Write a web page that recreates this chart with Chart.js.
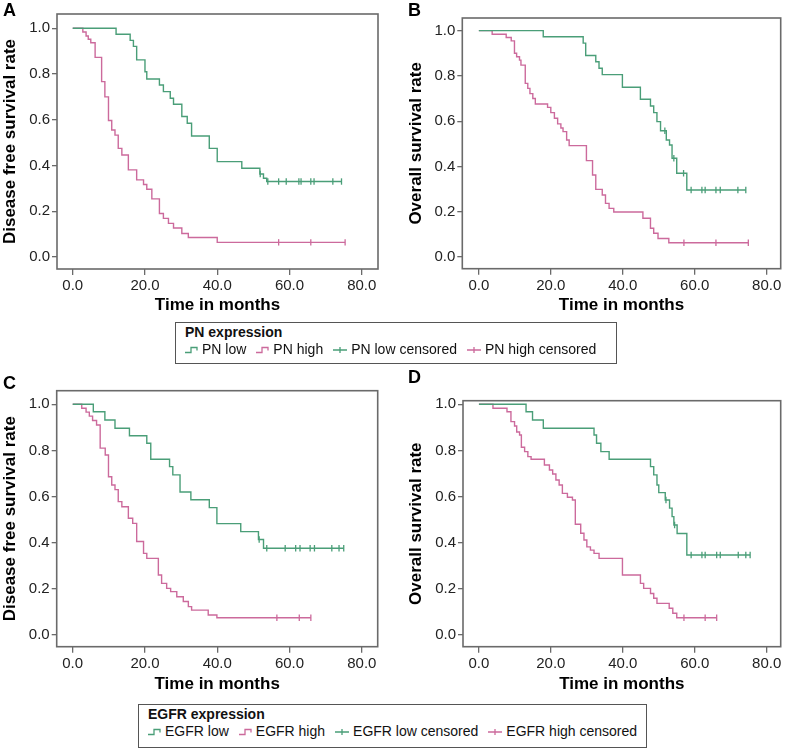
<!DOCTYPE html>
<html>
<head>
<meta charset="utf-8">
<script src="https://cdn.jsdelivr.net/npm/chart.js@4.4.1/dist/chart.umd.min.js"></script>
<style>
body{margin:0;width:786px;height:748px;position:relative;background:#fff;overflow:hidden;font-family:"Liberation Sans",Arial,sans-serif;color:#111}
canvas{position:absolute}
.letter{position:absolute;font-weight:bold;font-size:18px;line-height:1;color:#000}
.legend{position:absolute;border:1px solid #555;box-sizing:border-box;padding:1px 9px 0 9px;font-size:14px;line-height:17px;background:#fff}
.legend .ttl{font-weight:bold}
.legend .items{display:flex;align-items:center;white-space:nowrap}
.legend .item{display:flex;align-items:center;margin-right:10px}
.legend .item:last-child{margin-right:0}
.legend svg{margin-right:4px}
</style>
</head>
<body>
<canvas id="cA" width="393" height="318" style="left:0;top:0"></canvas>
<canvas id="cB" width="393" height="318" style="left:393px;top:0"></canvas>
<canvas id="cC" width="393" height="334" style="left:0;top:366px"></canvas>
<canvas id="cD" width="393" height="334" style="left:393px;top:366px"></canvas>

<div class="letter" style="left:3px;top:1px">A</div>
<div class="letter" style="left:408px;top:1px">B</div>
<div class="letter" style="left:3px;top:374px">C</div>
<div class="letter" style="left:408px;top:368px">D</div>

<div class="legend" id="leg1" style="left:175px;top:322px;width:442px;height:42px"></div>
<div class="legend" id="leg2" style="left:138px;top:704px;height:44px"></div>

<script>
const GREEN = '#4a9e78';
const PINK = '#cc6a9c';

const xTicks = [0, 20, 40, 60, 80];
const yTicks = [0, 0.2, 0.4, 0.6, 0.8, 1.0];

// A: PN, disease free survival
const pnDfsLowT = [0, 12.0, 15.9, 16.8, 17.7, 20.0, 20.5, 24.0, 25.1, 27.0, 27.9, 30.2, 31.7, 32.9, 37.8, 40.0, 46.8, 51.8, 52.8, 53.7, 74.4];
const pnDfsLowS = [1, 0.974, 0.947, 0.921, 0.862, 0.810, 0.778, 0.752, 0.723, 0.694, 0.668, 0.614, 0.585, 0.529, 0.475, 0.417, 0.388, 0.363, 0.344, 0.330, 0.330];
const pnDfsLowCens = [51.9, 54.0, 57.0, 59.1, 62.6, 63.2, 65.9, 66.8, 72.0, 74.4];
const pnDfsHighT = [0, 2.8, 3.7, 4.3, 5.0, 6.2, 8.0, 8.9, 9.9, 10.8, 11.7, 12.6, 13.6, 15.4, 17.7, 19.6, 20.5, 21.9, 24.0, 25.1, 26.5, 27.9, 30.2, 32.0, 40.0, 75.4];
const pnDfsHighS = [1, 0.984, 0.966, 0.952, 0.937, 0.873, 0.767, 0.700, 0.597, 0.555, 0.533, 0.475, 0.446, 0.381, 0.337, 0.317, 0.296, 0.254, 0.190, 0.169, 0.147, 0.127, 0.103, 0.085, 0.064, 0.064];
const pnDfsHighCens = [57.0, 65.9, 75.4];

// B: PN, overall survival
const pnOsLowT = [0, 17.9, 29.0, 29.7, 32.5, 33.4, 34.3, 39.9, 44.9, 47.7, 48.6, 49.5, 50.5, 52.1, 53.0, 53.7, 55.0, 57.8, 74.2];
const pnOsLowS = [1, 0.973, 0.945, 0.890, 0.863, 0.834, 0.806, 0.750, 0.697, 0.667, 0.638, 0.598, 0.558, 0.517, 0.495, 0.436, 0.370, 0.296, 0.296];
const pnOsLowCens = [51.7, 54.2, 56.9, 59.0, 62.0, 62.9, 65.9, 67.1, 72.0, 74.2];
const pnOsHighT = [0, 3.7, 7.6, 9.0, 9.9, 10.5, 11.3, 11.7, 12.9, 13.6, 14.2, 15.0, 15.7, 19.1, 20.0, 21.0, 21.9, 22.8, 23.4, 24.4, 25.1, 29.9, 31.6, 32.5, 34.3, 35.2, 36.2, 37.5, 45.6, 47.7, 48.6, 49.8, 52.8, 74.9];
const pnOsHighS = [1, 0.984, 0.970, 0.955, 0.900, 0.885, 0.870, 0.848, 0.767, 0.745, 0.722, 0.700, 0.676, 0.661, 0.638, 0.613, 0.588, 0.570, 0.554, 0.517, 0.492, 0.426, 0.362, 0.299, 0.274, 0.237, 0.215, 0.199, 0.171, 0.127, 0.105, 0.082, 0.063, 0.063];
const pnOsHighCens = [57.0, 65.9, 74.9];

// C: EGFR, disease free survival
const egDfsLowT = [0, 5.7, 8.9, 11.7, 15.7, 20.5, 21.6, 26.8, 27.7, 29.7, 32.7, 37.8, 39.9, 46.5, 51.4, 52.8, 75.0];
const egDfsLowS = [1, 0.968, 0.932, 0.896, 0.864, 0.831, 0.762, 0.730, 0.694, 0.620, 0.586, 0.552, 0.483, 0.448, 0.414, 0.376, 0.376];
const egDfsLowCens = [51.6, 53.7, 58.8, 61.7, 62.9, 65.7, 66.9, 71.7, 73.7, 75.0];
const egDfsHighT = [0, 2.5, 3.7, 4.6, 5.5, 6.6, 7.6, 9.0, 9.9, 10.8, 11.7, 12.6, 13.6, 15.4, 16.6, 17.7, 19.6, 20.5, 23.7, 24.6, 26.0, 27.1, 28.8, 30.6, 32.0, 32.9, 37.5, 39.9, 65.9];
const egDfsHighS = [1, 0.983, 0.966, 0.949, 0.930, 0.910, 0.810, 0.780, 0.686, 0.650, 0.630, 0.578, 0.556, 0.506, 0.484, 0.405, 0.354, 0.332, 0.260, 0.224, 0.202, 0.188, 0.166, 0.145, 0.123, 0.108, 0.087, 0.075, 0.075];
const egDfsHighCens = [56.5, 62.7, 65.9];

// D: EGFR, overall survival
const egOsLowT = [0, 13.1, 14.9, 17.9, 32.0, 32.7, 33.9, 36.2, 47.7, 48.6, 49.5, 50.0, 51.8, 53.0, 53.7, 54.2, 55.1, 57.8, 75.4];
const egOsLowS = [1, 0.968, 0.932, 0.896, 0.867, 0.831, 0.795, 0.762, 0.730, 0.694, 0.650, 0.617, 0.585, 0.550, 0.513, 0.477, 0.440, 0.347, 0.347];
const egOsLowCens = [52.0, 54.4, 59.0, 62.0, 62.9, 66.1, 67.1, 72.1, 74.2, 75.4];
const egOsHighT = [0, 3.9, 7.8, 8.9, 9.9, 10.5, 11.3, 11.8, 12.7, 13.6, 14.5, 18.2, 19.6, 20.5, 21.4, 22.3, 23.2, 24.6, 26.0, 26.8, 28.3, 29.2, 30.0, 31.0, 32.0, 33.4, 39.9, 44.9, 45.8, 47.7, 48.6, 49.5, 52.9, 53.9, 55.0, 66.1];
const egOsHighS = [1, 0.983, 0.968, 0.925, 0.906, 0.880, 0.867, 0.814, 0.795, 0.773, 0.762, 0.737, 0.715, 0.698, 0.672, 0.650, 0.614, 0.597, 0.585, 0.480, 0.441, 0.412, 0.382, 0.368, 0.354, 0.332, 0.260, 0.224, 0.202, 0.180, 0.159, 0.137, 0.116, 0.094, 0.075, 0.075];
const egOsHighCens = [57.0, 62.9, 66.1];

function kmPoints(t, s){ return t.map((v,i)=>({x:v, y:s[i]})); }
function survAt(time, t, s){
    let y = 1;
    for(let i=0;i<t.length;i++){ if(t[i] <= time) y = s[i]; }
    return y;
}
function censPoints(c, t, s){ return c.map(v=>({x:v, y:survAt(v,t,s)})); }

function lineSet(label, t, s, color){
    return {label:label, data:kmPoints(t,s), showLine:true, stepped:true, borderColor:color, borderWidth:1.4, pointRadius:0, fill:false};
}
function censSet(label, c, t, s, color){
    return {label:label, data:censPoints(c,t,s), showLine:false, pointStyle:'line', rotation:90, pointRadius:3.2, borderColor:color, backgroundColor:color, pointBorderWidth:1.3};
}

const boxPlugin = {
    id:'box',
    beforeDatasetsDraw(chart){
        const a = chart.chartArea, ctx = chart.ctx;
        ctx.save();
        ctx.strokeStyle = '#6a6a6a';
        ctx.lineWidth = 1.6;
        ctx.strokeRect(a.left, a.top, a.right-a.left, a.bottom-a.top);
        ctx.restore();
    }
};

function makePanel(id, p){
    new Chart(document.getElementById(id), {
        type:'scatter',
        data:{datasets:[
            lineSet('low', p.lowT, p.lowS, GREEN),
            lineSet('high', p.highT, p.highS, PINK),
            censSet('low censored', p.lowC, p.lowT, p.lowS, GREEN),
            censSet('high censored', p.highC, p.highT, p.highS, PINK)
        ]},
        options:{
            responsive:false,
            animation:false,
            layout:{padding:{left:0, top:p.area[1], right:p.w - p.area[2], bottom:0}},
            plugins:{legend:{display:false}, tooltip:{enabled:false}},
            scales:{
                x:{
                    type:'linear', min:p.xr[0], max:p.xr[1],
                    afterBuildTicks:s=>{ s.ticks = xTicks.map(v=>({value:v})); },
                    afterFit:s=>{ s.height = p.h - p.area[3]; },
                    grid:{drawOnChartArea:false, tickLength:6, color:'#6a6a6a', lineWidth:1.3},
                    border:{display:false},
                    ticks:{font:{size:15, family:'Liberation Sans'}, color:'#222', padding:2, maxRotation:0, callback:v=>v.toFixed(1)},
                    title:{display:true, text:'Time in months', color:'#000', font:{size:17, weight:'bold', family:'Liberation Sans'}, padding:{top:0, bottom:p.xtPad}}
                },
                y:{
                    type:'linear', min:p.yr[0], max:p.yr[1],
                    afterBuildTicks:s=>{ s.ticks = yTicks.map(v=>({value:v})); },
                    afterFit:s=>{ s.width = p.area[0]; },
                    grid:{drawOnChartArea:false, tickLength:5, color:'#6a6a6a', lineWidth:1.3},
                    border:{display:false},
                    ticks:{font:{size:15, family:'Liberation Sans'}, color:'#222', padding:2, callback:v=>v.toFixed(1)},
                    title:{display:true, text:p.ytitle, color:'#000', font:{size:17, weight:'bold', family:'Liberation Sans'}, padding:{top:p.ytPad, bottom:0}}
                }
            }
        },
        plugins:[boxPlugin]
    });
}

makePanel('cA', {w:393, h:318, area:[57, 14, 378, 269], xr:[-4.35, 84.5], yr:[-0.0525, 1.0625], xtPad:2.8, ytPad:0, ytitle:'Disease free survival rate',
    lowT:pnDfsLowT, lowS:pnDfsLowS, lowC:pnDfsLowCens, highT:pnDfsHighT, highS:pnDfsHighS, highC:pnDfsHighCens});
makePanel('cB', {w:393, h:318, area:[69.3, 18, 389, 268.7], xr:[-4.6, 83.9], yr:[-0.0517, 1.056], xtPad:2.8, ytPad:13, ytitle:'Overall survival rate',
    lowT:pnOsLowT, lowS:pnOsLowS, lowC:pnOsLowCens, highT:pnOsHighT, highS:pnOsHighS, highC:pnOsHighCens});
makePanel('cC', {w:393, h:334, area:[56.7, 24.7, 377.7, 280.7], xr:[-4.43, 84.4], yr:[-0.0507, 1.059], xtPad:5, ytPad:0, ytitle:'Disease free survival rate',
    lowT:egDfsLowT, lowS:egDfsLowS, lowC:egDfsLowCens, highT:egDfsHighT, highS:egDfsHighS, highC:egDfsHighCens});
makePanel('cD', {w:393, h:334, area:[70, 34.7, 389.3, 280.7], xr:[-4.43, 83.9], yr:[-0.0507, 1.0156], xtPad:5, ytPad:13.5, ytitle:'Overall survival rate',
    lowT:egOsLowT, lowS:egOsLowS, lowC:egOsLowCens, highT:egOsHighT, highS:egOsHighS, highC:egOsHighCens});

// legends
function stepIcon(color){
    return '<svg width="13" height="10"><path d="M0,7.5 H6 V2.5 H12 V5.5" fill="none" stroke="'+color+'" stroke-width="1.3"/></svg>';
}
function censIcon(color){
    return '<svg width="14" height="10"><path d="M0,5 H14 M7,2 V8" fill="none" stroke="'+color+'" stroke-width="1.3"/></svg>';
}
function buildLegend(id, title, names){
    const icons = [stepIcon(GREEN), stepIcon(PINK), censIcon(GREEN), censIcon(PINK)];
    let html = '<div class="ttl">'+title+'</div><div class="items">';
    names.forEach((n,i)=>{ html += '<div class="item">'+icons[i]+'<span>'+n+'</span></div>'; });
    html += '</div>';
    document.getElementById(id).innerHTML = html;
}
buildLegend('leg1', 'PN expression', ['PN low', 'PN high', 'PN low censored', 'PN high censored']);
buildLegend('leg2', 'EGFR expression', ['EGFR low', 'EGFR high', 'EGFR low censored', 'EGFR high censored']);
</script>
</body>
</html>
